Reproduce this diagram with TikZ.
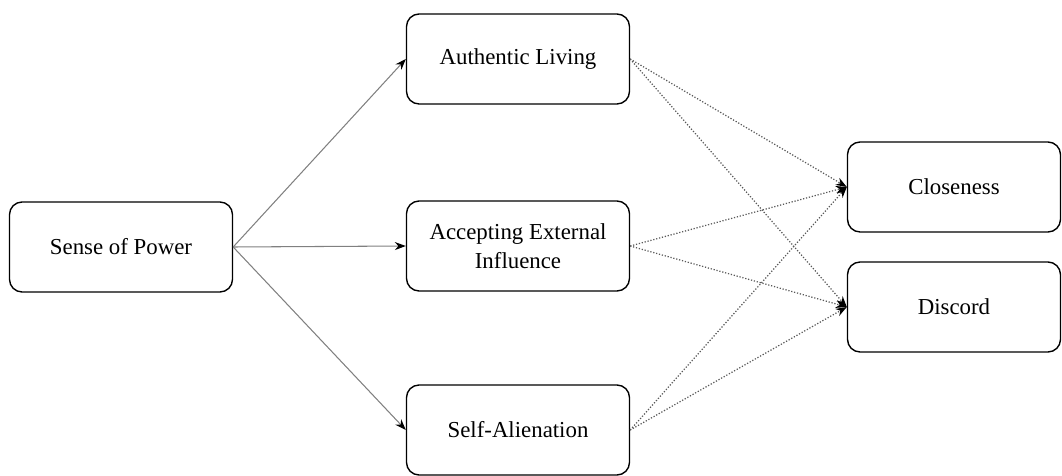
\documentclass[tikz,border=0pt]{standalone}
\usepackage{fontspec}
\setmainfont{Liberation Serif}
\usetikzlibrary{arrows.meta}

\begin{document}
\begin{tikzpicture}[x=0.02cm,y=-0.02cm,
	caja/.style={draw,rounded corners=0.25cm,line width=0.8pt,minimum width=4.46cm,minimum height=1.8cm,align=center,font=\fontsize{13}{16.5}\selectfont},
	flecha/.style={-{Stealth[length=2.2mm,width=1.6mm,black]},gray,line width=0.6pt},
	punteada/.style={flecha,black!65,line width=0.7pt,densely dotted}]
			\useasboundingbox (0,0) rectangle (1062,476);

			% Cajas
			\node[caja] (poder) at (121,247) {Sense of Power};
			\node[caja] (autentica) at (518,59) {Authentic Living};
			\node[caja] (externa) at (518,246) {Accepting External\\Influence};
			\node[caja] (alienacion) at (518,430) {Self-Alienation};
			\node[caja,minimum width=4.26cm] (cercania) at (954,187) {Closeness};
			\node[caja,minimum width=4.26cm] (discordia) at (954,307) {Discord};

			% Flechas
			\draw[flecha] (poder.east) -- (autentica.west);
			\draw[flecha] (poder.east) -- (externa.west);
			\draw[flecha] (poder.east) -- (alienacion.west);

			\foreach \m in {autentica,externa,alienacion}{
				\draw[punteada] (\m.east) -- (cercania.west);
				\draw[punteada] (\m.east) -- (discordia.west);
			}

		    \end{tikzpicture}
\end{document}
